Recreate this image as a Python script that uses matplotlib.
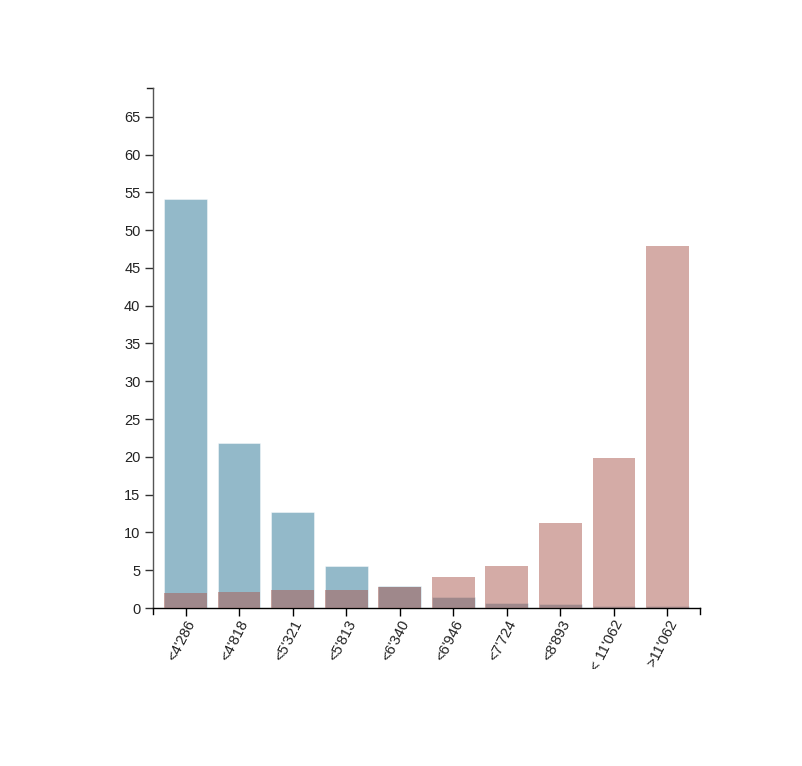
import matplotlib
matplotlib.use("Agg")
import matplotlib.pyplot as plt
from matplotlib.transforms import Bbox
import numpy as np

categories = ["<4'286", "<4'818", "<5'321", "<5'813", "<6'340", "<6'946",
              "<7'724", "<8'893", "< 11'062", ">11'062"]
blue_values = [54.1, 21.8, 12.7, 5.6, 2.9, 1.5, 0.7, 0.5, 0.3, 0.3]
red_values = [1.95, 2.07, 2.34, 2.4, 2.75, 4.05, 5.55, 11.3, 19.9, 47.9]
yticks = [0, 5, 10, 15, 20, 25, 30, 35, 40, 45, 50, 55, 60, 65]

plt.rcParams['font.family'] = ['Liberation Sans', 'DejaVu Sans']

W, H = 803, 766
fig = plt.figure(figsize=(W / 100, H / 100), dpi=100)
ax = fig.add_axes([153 / W, (H - 608) / H, (700 - 153) / W, (608 - 88) / H])

x = np.arange(len(categories))
ax.bar(x, blue_values, width=0.8, color=(41/255, 117/255, 149/255), alpha=0.5,
       edgecolor='white', linewidth=0.6, zorder=2)
ax.bar(x, red_values, width=0.8, color=(171/255, 89/255, 79/255), alpha=0.5,
       edgecolor='none', zorder=3)

XMIN, XMAX = -0.607, 9.607
YMAX = 68.8
ax.set_xlim(XMIN, XMAX)
ax.set_ylim(0, YMAX)
px_x = (XMAX - XMIN) / 547.0
px_y = YMAX / 520.0

for s in ['top', 'right']:
    ax.spines[s].set_visible(False)
ax.spines['left'].set_color('#555555')
ax.spines['bottom'].set_color('black')
ax.spines['left'].set_linewidth(1.0)
ax.spines['bottom'].set_linewidth(1.0)

ax.set_yticks(yticks)
ax.set_yticklabels([str(v) for v in yticks])
ax.tick_params(axis='y', length=6, width=1, color='#333333', labelsize=10.5,
               labelcolor='#222222', pad=3)
ax.set_xticks(x)
ax.set_xticklabels([])
ax.tick_params(axis='x', length=6, width=1, color='black')

# outer ticks at domain ends (d3 style)
ax.plot([XMIN, XMIN - 6 * px_x], [YMAX, YMAX], color='#222222', lw=1, clip_on=False)
ax.plot([XMIN, XMIN], [0, -6 * px_y], color='black', lw=1, clip_on=False)
ax.plot([XMAX, XMAX], [0, -6 * px_y], color='black', lw=1, clip_on=False)

clip = Bbox.from_extents(0, H - 669, W, H)
for xi, lab in zip(x, categories):
    t = ax.text(xi + 6 * px_x, -13 * px_y, lab, rotation=63, rotation_mode='anchor',
                ha='right', va='center', fontsize=10.5, color='#222222')
    t.set_clip_box(clip)
    t.set_clip_on(True)

fig.savefig("out.png", dpi=100)
